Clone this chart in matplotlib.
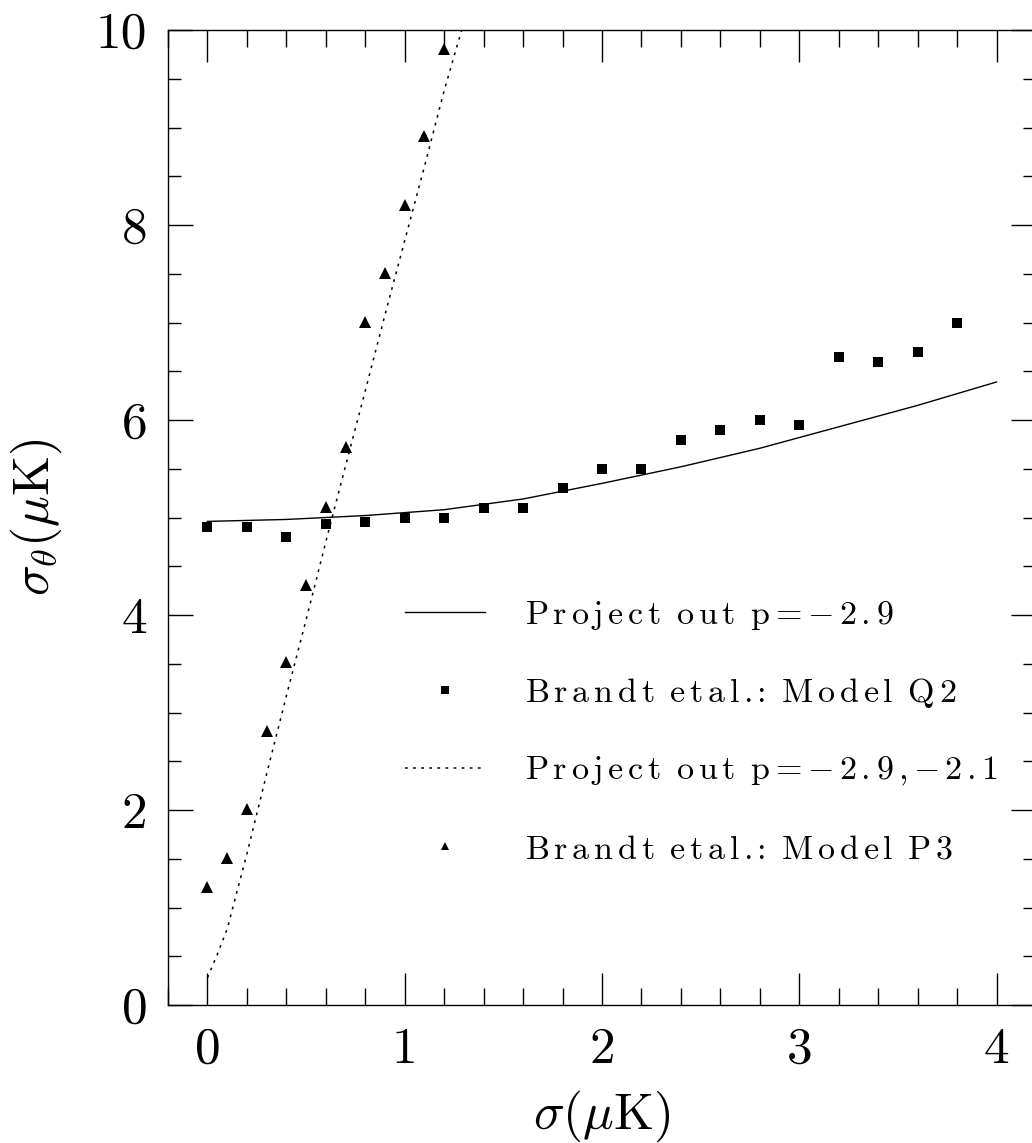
import matplotlib
matplotlib.use('Agg')
import matplotlib.pyplot as plt
from matplotlib.ticker import MultipleLocator, FormatStrFormatter

plt.rcParams['mathtext.fontset'] = 'cm'

# ---- data ----
q2_x = [0.0, 0.2, 0.4, 0.6, 0.8, 1.0, 1.2, 1.4, 1.6, 1.8, 2.0, 2.2, 2.4, 2.6, 2.8, 3.0, 3.2, 3.4, 3.6, 3.8]
q2_y = [4.90, 4.90, 4.80, 4.93, 4.95, 5.00, 5.00, 5.10, 5.10, 5.30, 5.50, 5.50, 5.79, 5.90, 6.00, 5.95, 6.65, 6.59, 6.70, 7.00]

p3_x = [0.0, 0.1, 0.2, 0.3, 0.4, 0.5, 0.6, 0.7, 0.8, 0.9, 1.0, 1.1, 1.2]
p3_y = [1.21, 1.51, 2.01, 2.81, 3.52, 4.31, 5.11, 5.72, 7.01, 7.51, 8.21, 8.91, 9.81]

proj1_x = [0.0, 0.4, 0.8, 1.2, 1.6, 2.0, 2.4, 2.8, 3.2, 3.6, 4.0]
proj1_y = [4.96, 4.98, 5.02, 5.08, 5.19, 5.35, 5.52, 5.71, 5.93, 6.15, 6.39]

proj2_x = [0.0, 0.05, 0.1, 0.2, 0.3, 0.4, 0.5, 0.6, 0.7, 0.8, 0.9, 1.0, 1.1, 1.2, 1.3]
proj2_y = [0.28, 0.52, 0.78, 1.55, 2.37, 3.17, 3.95, 4.75, 5.53, 6.30, 7.08, 7.84, 8.60, 9.38, 10.08]

labels = ["Project out p=\u22122.9",
          "Brandt etal.: Model Q2",
          "Project out p=\u22122.9,\u22122.1",
          "Brandt etal.: Model P3"]


def spaced_tex(s, ls=0.16, ws=0.52):
    """Build a letter-spaced mathtext (Computer Modern) string."""
    out = []
    n = len(s)
    for i, c in enumerate(s):
        nxt = s[i + 1] if i + 1 < n else ''
        if c == ' ':
            continue
        if c.isalnum():
            out.append(r'\mathrm{%s}' % c)
            if nxt == '' or nxt == '=':
                pass
            elif nxt == ' ':
                out.append(r'\hspace{%g}' % ws)
            else:
                out.append(r'\hspace{%g}' % ls)
        elif c == '\u2212':
            out.append('{-}')
            if nxt and nxt != ' ':
                out.append(r'\hspace{%g}' % ls)
        elif c == '.':
            out.append('.')          # mathtext adds 0.2 after
            if nxt == ':':
                out.append(r'\hspace{-0.28}')
            elif nxt == ' ':
                out.append(r'\hspace{%g}' % (ws - 0.2))
        elif c == ':':
            out.append(':')          # relation: 0.2 on both sides
            if nxt == ' ':
                out.append(r'\hspace{%g}' % (ws - 0.2))
        else:  # '=' or ','
            out.append(c)
    return '$' + ''.join(out) + '$'


fig = plt.figure(figsize=(10.32, 11.43), dpi=100)
ax = fig.add_axes([168 / 1032, 138 / 1143, 868 / 1032, 975 / 1143])

l1, = ax.plot(proj1_x, proj1_y, color='black', lw=1.0)
l2, = ax.plot(q2_x, q2_y, ls='none', marker='s', ms=7, mew=0, color='black')
l3, = ax.plot(proj2_x, proj2_y, color='black', lw=1.1, ls=(0, (1.8, 3.5)))
l4, = ax.plot(p3_x, p3_y, ls='none', marker='^', ms=8, mew=0, color='black')

ax.set_xlim(-0.2, 4.2)
ax.set_ylim(0, 10)

ax.xaxis.set_major_locator(MultipleLocator(1))
ax.xaxis.set_minor_locator(MultipleLocator(0.2))
ax.yaxis.set_major_locator(MultipleLocator(2))
ax.yaxis.set_minor_locator(MultipleLocator(0.5))
ax.xaxis.set_major_formatter(FormatStrFormatter('%d'))
ax.yaxis.set_major_formatter(FormatStrFormatter('%d'))

ax.tick_params(axis='both', which='both', direction='in', top=True, right=True,
               width=1.0, color='black')
ax.tick_params(axis='x', which='major', length=23, pad=16)
ax.tick_params(axis='x', which='minor', length=12)
ax.tick_params(axis='y', which='major', length=18, pad=15)
ax.tick_params(axis='y', which='minor', length=9.5)
for lab in ax.get_xticklabels() + ax.get_yticklabels():
    lab.set_fontfamily('cmr10')
    lab.set_fontsize(37)

for sp in ax.spines.values():
    sp.set_linewidth(1.0)

ax.set_xlabel(r'$\sigma(\mu\mathrm{K})$', fontsize=37)
ax.xaxis.set_label_coords(0.5, -0.085)
ax.set_ylabel(r'$\sigma_\theta(\mu\mathrm{K})$', fontsize=37)
ax.yaxis.set_label_coords(-0.12, 0.5)

leg = ax.legend([l1, l2, l3, l4], [spaced_tex(s) for s in labels],
                loc='center left', bbox_to_anchor=(0.273, 0.2805),
                frameon=False, borderpad=0, borderaxespad=0,
                handlelength=2.35, handletextpad=1.17, labelspacing=1.29,
                numpoints=1, markerscale=0.8,
                prop={'size': 24.5})

fig.savefig('out.png', dpi=100)
